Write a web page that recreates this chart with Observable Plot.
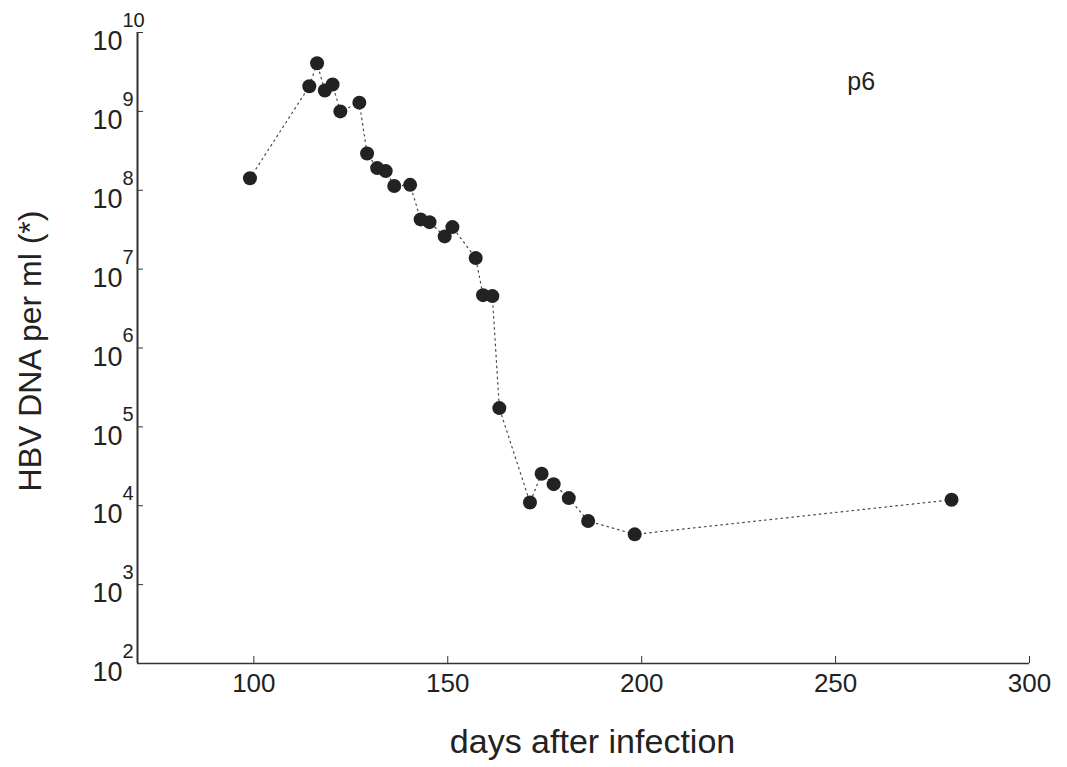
<!DOCTYPE html>
<html><head><meta charset="utf-8">
<script src="https://cdn.jsdelivr.net/npm/d3@7"></script>
<script src="https://cdn.jsdelivr.net/npm/@observablehq/plot@0.6"></script>
<style>body{margin:0;background:#fff}</style>
</head><body><div id="chart"></div>
<script>
// Data
const days = [99, 114.3, 116.3, 118.3, 120.3, 122.3, 127.2, 129.2, 131.8, 134, 136.2, 140.3, 143, 145.3, 149.2, 151.2, 157.2, 159.1, 161.5, 163.3, 171.2, 174.2, 177.3, 181.2, 186.2, 198.2, 279.9];
const hbv = [1.42e8, 2.08e9, 4.08e9, 1.84e9, 2.19e9, 1.0e9, 1.29e9, 2.93e8, 1.91e8, 1.75e8, 1.13e8, 1.17e8, 4.27e7, 3.94e7, 2.6e7, 3.41e7, 1.38e7, 4.68e6, 4.55e6, 1.73e5, 1.10e4, 2.55e4, 1.88e4, 1.25e4, 6.4e3, 4.34e3, 1.19e4];
const xTicks = [100, 150, 200, 250, 300];
const yExponents = [2, 3, 4, 5, 6, 7, 8, 9, 10];
const xTitle = "days after infection";
const yTitle = "HBV DNA per ml (*)";
const panelLabel = "p6";

const data = days.map((d, i) => ({day: d, hbv: hbv[i]}));
const yTicks = yExponents.map(e => 10 ** e);

const W = 1067, H = 767;
const mL = 137, mR = 38, mT = 32, mB = 104;
const plotW = W - mL - mR, plotH = H - mT - mB;
const ink = "#222";

const chart = Plot.plot({
  width: W, height: H,
  marginLeft: mL, marginRight: mR, marginTop: mT, marginBottom: mB,
  style: {fontFamily: "'Liberation Sans', Arial, Helvetica, sans-serif", background: "#fff", color: ink},
  x: {domain: [70, 300], axis: null},
  y: {type: "log", domain: [1e2, 1e10], axis: null},
  marks: [
    // axis lines
    Plot.ruleX([70], {stroke: "#333", strokeWidth: 2}),
    Plot.ruleY([1e2], {stroke: "#333", strokeWidth: 1.5}),
    // inward ticks
    Plot.tickX(xTicks, {x: d => d, insetTop: plotH - 7, stroke: "#333", strokeWidth: 1}),
    Plot.tickY(yTicks, {y: d => d, insetRight: plotW - 6, stroke: "#333", strokeWidth: 1}),
    // x tick labels
    Plot.axisX(xTicks, {tickSize: 0, tickPadding: 10, fontSize: 26, label: null, fill: ink}),
    // y tick labels as 10^n
    Plot.text(yTicks, {y: d => d, frameAnchor: "left", text: () => "10", textAnchor: "end", lineAnchor: "middle", dx: -15, dy: 9, fontSize: 27, fill: ink}),
    Plot.text(yExponents, {y: e => 10 ** e, frameAnchor: "left", text: e => String(e), textAnchor: "start", lineAnchor: "middle", dx: -15, dy: -12, fontSize: 20, fill: ink}),
    // axis titles
    Plot.text([xTitle], {frameAnchor: "bottom", text: d => d, textAnchor: "middle", lineAnchor: "middle", dx: 9, dy: 79, fontSize: 34, fill: ink}),
    Plot.text([yTitle], {frameAnchor: "left", text: d => d, textAnchor: "middle", lineAnchor: "middle", rotate: -90, dx: -107, dy: 3, fontSize: 32, fill: ink}),
    // panel label
    Plot.text([panelLabel], {x: () => 253, y: () => 10 ** 9.37, text: d => d, textAnchor: "start", lineAnchor: "middle", fontSize: 25, fill: ink}),
    // data
    Plot.line(data, {x: "day", y: "hbv", stroke: "#444", strokeWidth: 1.2, strokeDasharray: "1.5,4"}),
    Plot.dot(data, {x: "day", y: "hbv", r: 7, fill: ink, stroke: "none"})
  ]
});
document.getElementById("chart").appendChild(chart);
</script>
</body></html>
